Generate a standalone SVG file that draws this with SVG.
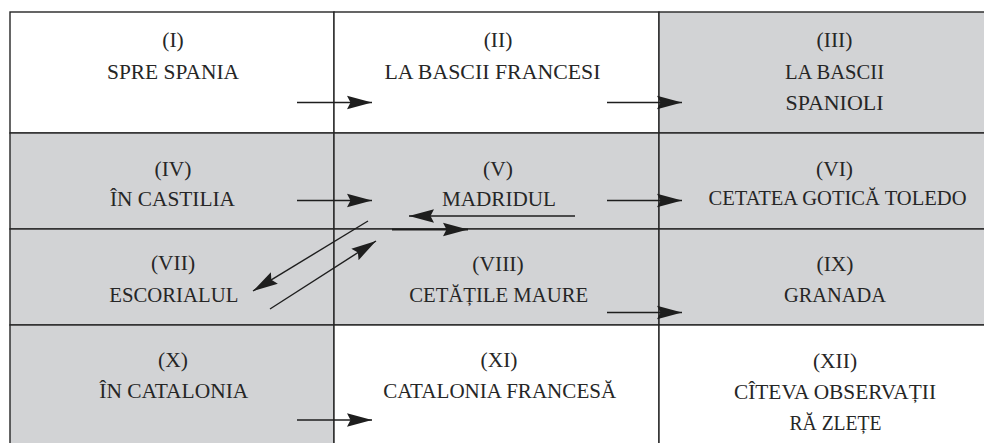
<svg xmlns="http://www.w3.org/2000/svg" width="984" height="443" viewBox="0 0 984 443">
<defs>
<style>
.c{stroke:#262626;stroke-width:1.4}
.w{fill:#ffffff}
.g{fill:#d2d3d5}
.t text{font-size:21.5px;fill:#262626;text-anchor:middle}
.a{stroke:#1e1e1e;stroke-width:1.4;fill:none;marker-end:url(#ah)}
</style>
<marker id="ah" markerUnits="userSpaceOnUse" markerWidth="27" markerHeight="16" refX="25" refY="7.5" orient="auto" viewBox="0 0 27 16">
<path d="M0,0.8 L25,7.5 L0,14.2 L3.5,7.5 Z" fill="#1e1e1e"/>
</marker>
</defs>
<rect width="984" height="443" fill="#ffffff"/>
<g class="t" font-family="'Liberation Serif', 'Times New Roman', serif">
<g id="n1"><rect class="c w" x="10" y="12" width="324" height="121"/><text x="173" y="46.5">(I)</text><text x="173" y="78.5" textLength="132" lengthAdjust="spacingAndGlyphs">SPRE SPANIA</text></g>
<g id="n2"><rect class="c w" x="334" y="12" width="325" height="121"/><text x="498" y="46.5">(II)</text><text x="492.5" y="78.5" textLength="216" lengthAdjust="spacingAndGlyphs">LA BASCII FRANCESI</text></g>
<g id="n3"><rect class="c g" x="659" y="12" width="360" height="121"/><text x="834.5" y="46.5">(III)</text><text x="834.5" y="78.5" textLength="99" lengthAdjust="spacingAndGlyphs">LA BASCII</text><text x="834.5" y="110" textLength="98" lengthAdjust="spacingAndGlyphs">SPANIOLI</text></g>
<g id="n4"><rect class="c g" x="10" y="133" width="324" height="96"/><text x="173" y="175.5">(IV)</text><text x="172.5" y="205.5" textLength="125" lengthAdjust="spacingAndGlyphs">ÎN CASTILIA</text></g>
<g id="n5"><rect class="c g" x="334" y="133" width="325" height="96"/><text x="498" y="175.5">(V)</text><text x="499" y="205.5" textLength="114" lengthAdjust="spacingAndGlyphs">MADRIDUL</text></g>
<g id="n6"><rect class="c g" x="659" y="133" width="360" height="96"/><text x="834.5" y="175.5">(VI)</text><text x="837.5" y="205" textLength="258" lengthAdjust="spacingAndGlyphs">CETATEA GOTICĂ TOLEDO</text></g>
<g id="n7"><rect class="c g" x="10" y="229" width="324" height="96"/><text x="173" y="270">(VII)</text><text x="173.8" y="301.5" textLength="129" lengthAdjust="spacingAndGlyphs">ESCORIALUL</text></g>
<g id="n8"><rect class="c g" x="334" y="229" width="325" height="96"/><text x="498" y="270.5">(VIII)</text><text x="498.7" y="301.5" textLength="179" lengthAdjust="spacingAndGlyphs">CETĂȚILE MAURE</text></g>
<g id="n9"><rect class="c g" x="659" y="229" width="360" height="96"/><text x="835" y="270.5">(IX)</text><text x="835" y="301.5" textLength="102" lengthAdjust="spacingAndGlyphs">GRANADA</text></g>
<g id="n10"><rect class="c g" x="10" y="325" width="324" height="140"/><text x="173" y="367">(X)</text><text x="173.8" y="398" textLength="149" lengthAdjust="spacingAndGlyphs">ÎN CATALONIA</text></g>
<g id="n11"><rect class="c w" x="334" y="325" width="325" height="140"/><text x="499" y="367">(XI)</text><text x="499.7" y="398" textLength="233" lengthAdjust="spacingAndGlyphs">CATALONIA FRANCESĂ</text></g>
<g id="n12"><rect class="c w" x="659" y="325" width="360" height="140"/><text x="835" y="367.5">(XII)</text><text x="835" y="398.5" textLength="202" lengthAdjust="spacingAndGlyphs">CÎTEVA OBSERVAȚII</text><text x="835.5" y="429.5" textLength="92" lengthAdjust="spacingAndGlyphs">RĂ ZLEȚE</text></g>
</g>
<g id="connectors">
<line class="a" x1="297" y1="102.5" x2="372" y2="102.5"/>
<line class="a" x1="607" y1="102.5" x2="682" y2="102.5"/>
<line class="a" x1="297" y1="200.5" x2="372" y2="200.5"/>
<line class="a" x1="607" y1="200.5" x2="682" y2="200.5"/>
<line class="a" x1="575" y1="216" x2="409" y2="216"/>
<line class="a" x1="392" y1="229.5" x2="468" y2="229.5" style="stroke-width:1.8"/>
<line class="a" x1="368" y1="221" x2="253" y2="291"/>
<line class="a" x1="270" y1="309" x2="376" y2="241"/>
<line class="a" x1="607" y1="312.5" x2="682" y2="312.5"/>
<line class="a" x1="297" y1="420" x2="372" y2="420"/>
</g>
</svg>
